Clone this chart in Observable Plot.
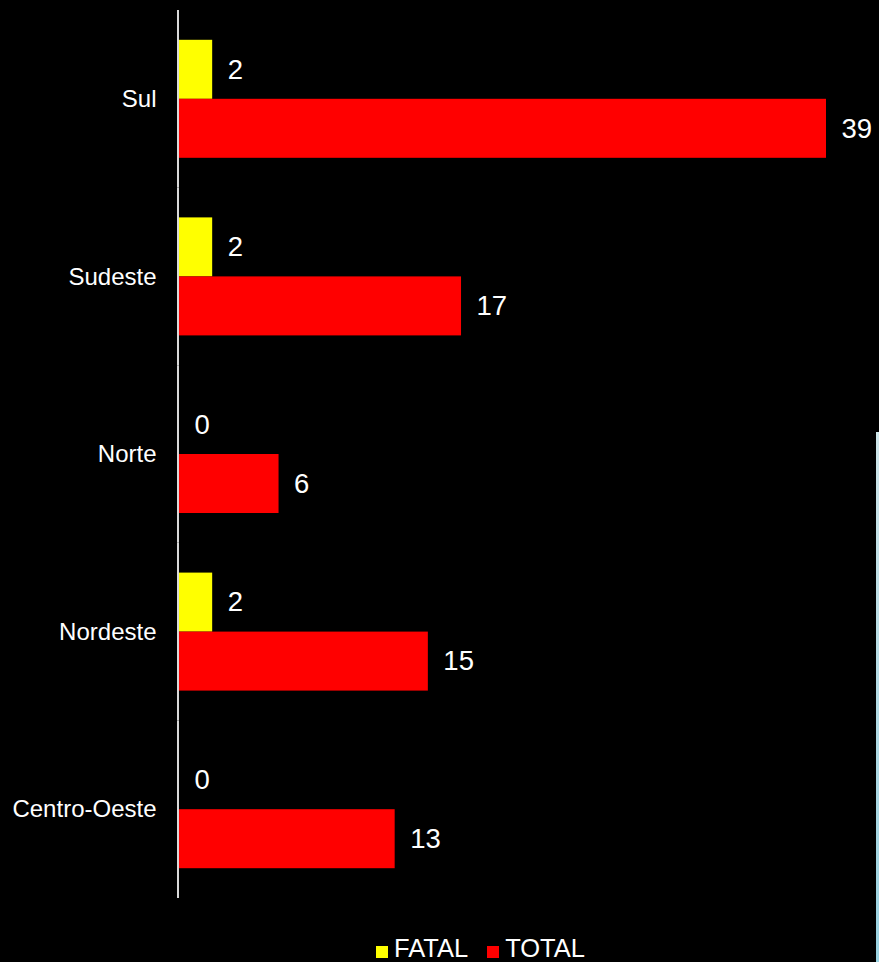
<!DOCTYPE html>
<html>
<head>
<meta charset="utf-8">
<script src="https://cdn.jsdelivr.net/npm/d3@7"></script>
<script src="https://cdn.jsdelivr.net/npm/@observablehq/plot@0.6"></script>
<style>
  html, body { margin: 0; padding: 0; background: #000; }
  body { width: 879px; height: 962px; position: relative; overflow: hidden; }
  #chart { position: absolute; left: 0; top: 0; }
  #legend { position: absolute; left: 376px; top: 934px; }
  #legend div.lg-swatches { margin: 0 !important; min-height: 0 !important; line-height: 28px; }
  #legend div.lg-swatches .lg-swatch { margin-right: 19px !important; }
  #legend div.lg-swatches .lg-swatch > svg { margin-right: 6px !important; position: relative; top: 4px; }
  #strip { position: absolute; left: 876px; top: 432px; width: 3px; height: 530px;
           background: linear-gradient(#cfe6ea, #9ad3e2); }
</style>
</head>
<body>
<div id="chart"></div>
<div id="legend"></div>
<div id="strip"></div>
<script>
const regions = ["Sul", "Sudeste", "Norte", "Nordeste", "Centro-Oeste"];
const series = ["FATAL", "TOTAL"];
const fatal = [2, 2, 0, 2, 0];
const total = [39, 17, 6, 15, 13];
const colors = ["#ffff00", "#ff0000"];

const rows = [];
regions.forEach((r, i) => {
  rows.push({region: r, series: "FATAL", value: fatal[i]});
  rows.push({region: r, series: "TOTAL", value: total[i]});
});

const font = "'Liberation Sans', Arial, sans-serif";

const plot = Plot.plot({
  width: 879,
  height: 905,
  marginTop: 10,
  marginBottom: 7,
  marginLeft: 179,
  marginRight: 53,
  style: {background: "#000", color: "#fff", fontFamily: font, fontSize: "24px"},
  x: {domain: [0, 39], nice: false, axis: null},
  y: {domain: series, paddingInner: 0, paddingOuter: 0.505, align: 0.5, round: false, axis: null},
  fy: {domain: regions, padding: 0, round: false, axis: "left", tickSize: 0, tickPadding: 23, label: null},
  color: {domain: series, range: colors},
  marks: [
    Plot.barX(rows, {fy: "region", y: "series", x: "value", fill: "series"}),
    Plot.text(rows, {fy: "region", y: "series", x: "value", text: d => String(d.value),
      textAnchor: "start", dx: 15, fill: "#fff", fontSize: 27.5, fontFamily: font}),
    Plot.ruleX([0], {stroke: "#d9d9d9", strokeWidth: 2, dx: -1.5})
  ]
});
document.getElementById("chart").appendChild(plot);

const legend = plot.legend("color", {
  className: "lg",
  swatchSize: 12,
  style: {fontSize: "25.5px", fontFamily: font, color: "#fff", background: "transparent"}
});
document.getElementById("legend").appendChild(legend);
</script>
</body>
</html>
